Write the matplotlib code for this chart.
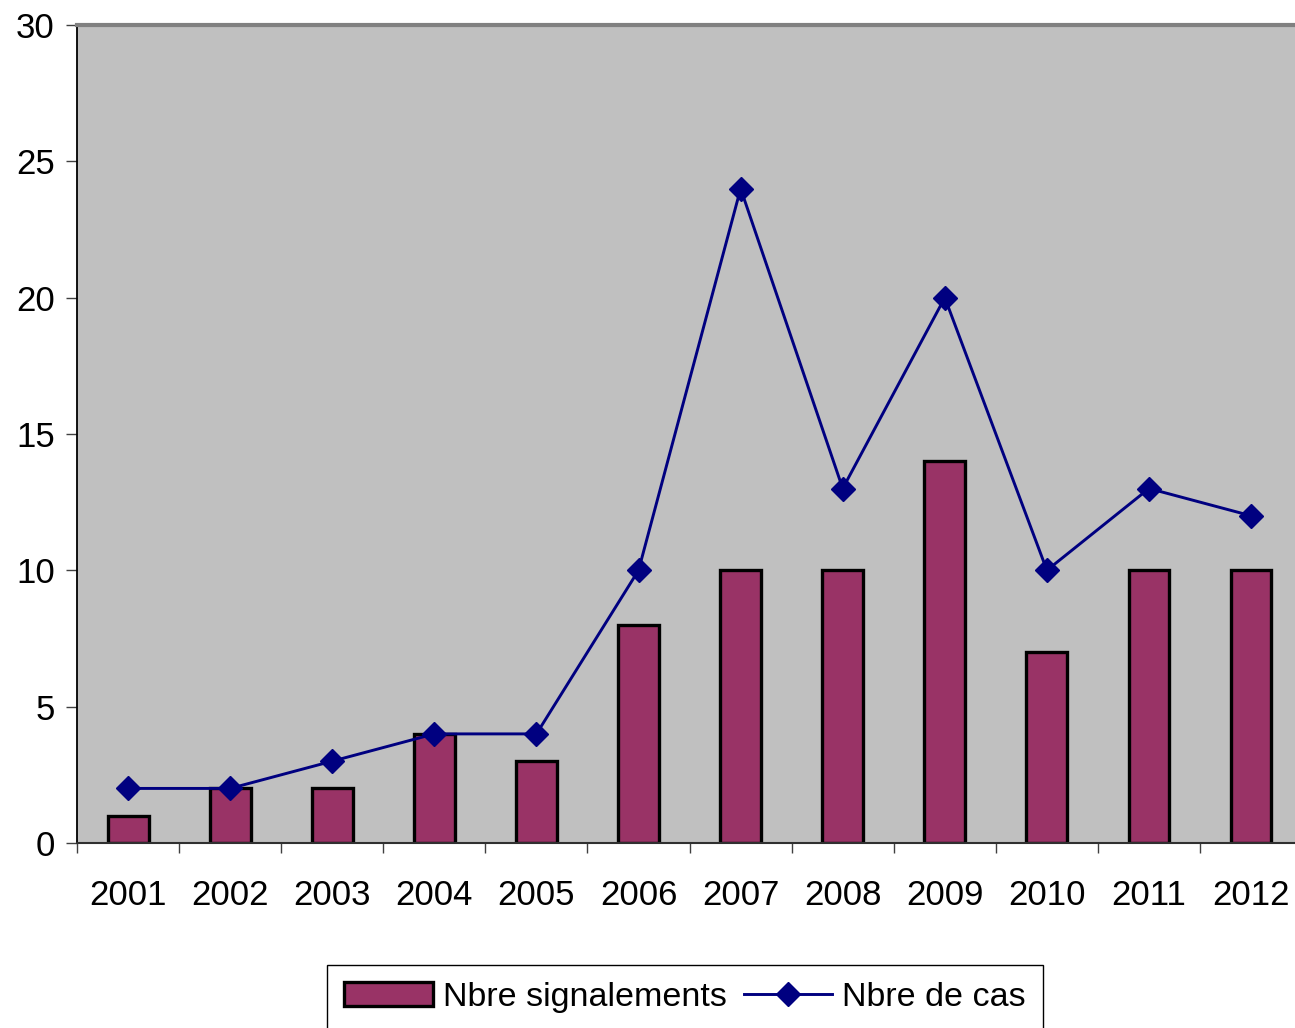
import matplotlib
matplotlib.use("Agg")
import matplotlib.pyplot as plt
import numpy as np

years = ["2001", "2002", "2003", "2004", "2005", "2006",
         "2007", "2008", "2009", "2010", "2011", "2012"]
signalements = [1, 2, 2, 4, 3, 8, 10, 10, 14, 7, 10, 10]
cas = [2, 2, 3, 4, 4, 10, 24, 13, 20, 10, 13, 12]

plt.rcParams["font.family"] = ["Liberation Sans", "DejaVu Sans"]

fig = plt.figure(figsize=(12.95, 10.28), dpi=100)
# plot area runs slightly past the right edge of the figure
ax = fig.add_axes([0.0595, 0.18, 0.946, 0.7957])
ax.set_facecolor("#C0C0C0")

x = np.arange(len(years))
bars = ax.bar(x, signalements, width=0.40, color="#993366", edgecolor="black",
              linewidth=2.4, label="Nbre signalements", zorder=2)
line, = ax.plot(x, cas, color="#000080", linewidth=2.1, marker="D",
                markersize=12, label="Nbre de cas", zorder=3)

ax.set_xlim(-0.5, len(years) - 0.5)
ax.set_ylim(0, 30)
ax.set_yticks(range(0, 31, 5))

# category labels centred, tick marks on category boundaries
ax.set_xticks(x)
ax.set_xticklabels(years)
ax.set_xticks(np.arange(-0.5, len(years), 1.0), minor=True)
ax.tick_params(axis="x", which="major", length=0, pad=26, labelsize=25)
ax.tick_params(axis="x", which="minor", length=7, width=1, color="#404040",
               direction="out")
ax.tick_params(axis="y", length=8, width=1, color="#404040", pad=8,
               labelsize=25)

ax.spines["top"].set_color("#808080")
ax.spines["top"].set_linewidth(3)
ax.spines["left"].set_color("black")
ax.spines["left"].set_linewidth(1.3)
ax.spines["bottom"].set_color("#303030")
ax.spines["bottom"].set_linewidth(1.5)
ax.spines["right"].set_visible(False)

leg = fig.legend([bars, line], ["Nbre signalements", "Nbre de cas"],
                 loc="upper center", bbox_to_anchor=(0.529, 0.0613), ncol=2,
                 fontsize=24.5, frameon=True, fancybox=False,
                 edgecolor="black", framealpha=1, handlelength=2.6,
                 handleheight=0.7, columnspacing=0.5, handletextpad=0.3,
                 borderpad=0.5, borderaxespad=0)
leg.get_frame().set_linewidth(1)

fig.savefig("out.png", dpi=100)
